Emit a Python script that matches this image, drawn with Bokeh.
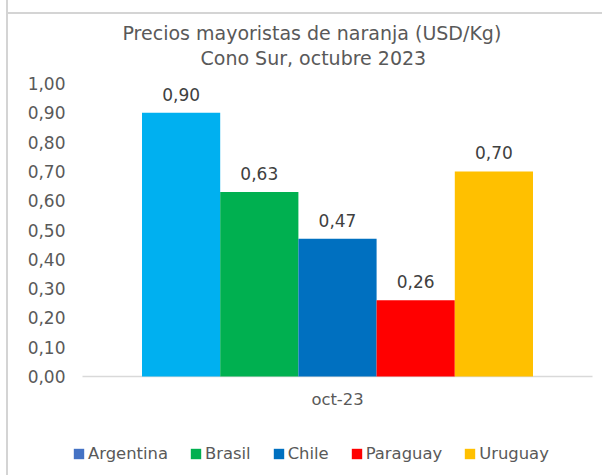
from bokeh.plotting import figure
from bokeh.models import (FactorRange, Range1d, FixedTicker, Legend, LegendItem,
                          ColumnDataSource, LabelSet, Title)
from bokeh.core.properties import value
from bokeh.embed import file_html
from bokeh.resources import INLINE

# ---- data ----
month = "oct-23"
countries = ["Argentina", "Brasil", "Chile", "Paraguay", "Uruguay"]
prices = [0.90, 0.63, 0.47, 0.26, 0.70]
bar_colors = ["#00B0F0", "#00B050", "#0070C0", "#FF0000", "#FFC000"]
legend_colors = ["#4472C4", "#00B050", "#0070C0", "#FF0000", "#FFC000"]
y_ticks = [0.0, 0.1, 0.2, 0.3, 0.4, 0.5, 0.6, 0.7, 0.8, 0.9, 1.0]
y_tick_labels = ["0,00", "0,10", "0,20", "0,30", "0,40", "0,50",
                 "0,60", "0,70", "0,80", "0,90", "1,00"]
title_line1 = "Precios mayoristas de naranja (USD/Kg)"
title_line2 = "Cono Sur, octubre  2023"

FONT = "DejaVu Sans"
TXT = "#595959"

# ---- layout constants (pixels) ----
CAT_PX = 510          # width of the category on screen
UNIT_PX = 293         # pixels per 1.00 USD/Kg
PAD_PX = 10           # extra frame on each side of the category
FRAME_H = 387         # plot area reaches down to hold axis label and legend
BAR_W = 78.2 / CAT_PX # bar width as a fraction of the category

n = len(countries)
offsets = [(i - (n - 1) / 2) * BAR_W for i in range(n)]

src = ColumnDataSource(dict(
    x=[(month, o) for o in offsets],
    price=prices,
    color=bar_colors,
    legend_color=legend_colors,
    label=[f"{v:.2f}".replace(".", ",") for v in prices],
))

GRAY = "#D4D4D4"
frame_css = (f"linear-gradient({GRAY},{GRAY}) 6px 0px / 2px 100% no-repeat, "
             f"linear-gradient({GRAY},{GRAY}) 6px 12px / 100% 2px no-repeat, white")

p = figure(frame_width=CAT_PX + 2 * PAD_PX, frame_height=FRAME_H,
           x_range=FactorRange(month, range_padding=2 * PAD_PX / CAT_PX),
           y_range=Range1d(1.0 - FRAME_H / UNIT_PX, 1.0),
           output_backend="svg", toolbar_location=None,
           min_border_left=72, min_border_right=0,
           min_border_top=83, min_border_bottom=5,
           styles={"background": frame_css})
p.outline_line_color = None
p.xgrid.grid_line_color = None
p.ygrid.grid_line_color = None
p.border_fill_alpha = 0
p.background_fill_color = "white"

# category baseline (spans the whole category)
p.segment(x0=[(month, -0.5)], y0=[0], x1=[(month, 0.5)], y1=[0],
          line_color="#D9D9D9", line_width=1.5)

bars = p.vbar(x="x", top="price", width=BAR_W, bottom=0, source=src,
              fill_color="color", line_color=None)
# zero-height twin used only for the legend swatches (legend colours differ for Argentina)
swatch = p.vbar(x="x", top=0, width=BAR_W, bottom=0, source=src,
                fill_color="legend_color", line_color=None)

p.add_layout(LabelSet(x="x", y="price", text="label", source=src,
                      text_align="center", text_baseline="bottom", y_offset=12,
                      text_font=value(FONT), text_font_size="17px",
                      text_color="#404040"))

# y axis
yax = p.yaxis[0]
yax.ticker = FixedTicker(ticks=y_ticks)
yax.major_label_overrides = {t: l for t, l in zip(y_ticks, y_tick_labels)}
yax.axis_line_color = None
yax.major_tick_line_color = None
yax.minor_tick_line_color = None
yax.major_tick_out = 0
yax.major_tick_in = 0
yax.major_label_standoff = 7
yax.major_label_text_font = FONT
yax.major_label_text_font_size = "17px"
yax.major_label_text_color = TXT

# x axis, pinned at 0
xax = p.xaxis[0]
xax.fixed_location = 0
xax.axis_line_color = None
xax.major_tick_line_color = None
xax.minor_tick_line_color = None
xax.major_tick_out = 0
xax.major_tick_in = 0
xax.major_label_standoff = 13
xax.major_label_text_font = FONT
xax.major_label_text_font_size = "16.4px"
xax.major_label_text_color = TXT

legend = Legend(items=[LegendItem(label=c, renderers=[swatch], index=i)
                       for i, c in enumerate(countries)],
                orientation="horizontal", location=(0, 7),
                glyph_width=13, glyph_height=13, label_standoff=3, spacing=21,
                padding=0, margin=0, border_line_color=None, background_fill_alpha=0,
                label_text_font=FONT, label_text_font_size="16.4px",
                label_text_color=TXT)
p.add_layout(legend, "center")

# titles (a tiny spacer keeps the gap between the subtitle and the plot area)
p.add_layout(Title(text=" ", text_font_size="1px", standoff=11), "above")
p.add_layout(Title(text=title_line2, align="left", offset=128, text_font=FONT,
                   text_font_size="19px", text_color=TXT, text_font_style="normal",
                   standoff=2), "above")
p.add_layout(Title(text=title_line1, align="left", offset=50, text_font=FONT,
                   text_font_size="19px", text_color=TXT, text_font_style="normal",
                   standoff=0), "above")

open("out.html", "w").write(file_html(p, INLINE))
